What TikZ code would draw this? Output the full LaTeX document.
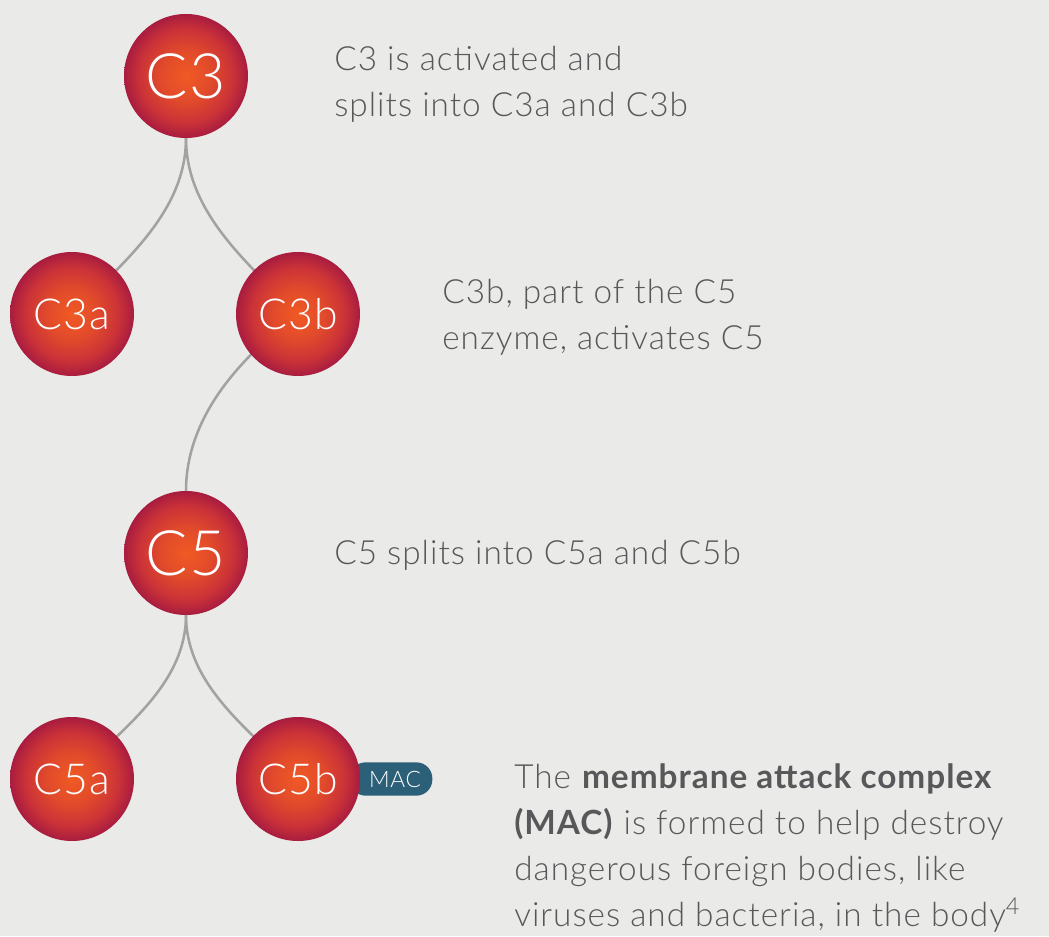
\documentclass[tikz,border=0pt]{standalone}
\usepackage{fontspec}
\setmainfont{Lato}[UprightFont=* Light, BoldFont=* Bold, LetterSpace=3]
\definecolor{pagegray}{HTML}{EAEAE8}
\definecolor{linegray}{HTML}{A2A2A0}
\definecolor{textgray}{HTML}{58585A}
\definecolor{ballcore}{HTML}{F05A24}
\definecolor{ballmid}{HTML}{E24B2A}
\definecolor{ballouter}{HTML}{CA3238}
\definecolor{ballrim}{HTML}{A81C3F}
\definecolor{macteal}{HTML}{2C5F78}
\pgfdeclareradialshading{ballglow}{\pgfpoint{0bp}{0bp}}{color(0bp)=(ballcore); color(10bp)=(ballmid); color(19bp)=(ballouter); color(25bp)=(ballrim); color(50bp)=(ballrim)}
\tikzset{
  ball/.style={circle, minimum size=93pt, inner sep=0pt, shading=ballglow, text=white},
  bigball/.style={ball, font=\fontsize{47}{47}\selectfont},
  smallball/.style={ball, font=\fontsize{32}{32}\selectfont},
  link/.style={linegray, line width=1.9pt},
  note/.style={anchor=west, align=left, text=textgray, inner sep=0pt, font=\fontsize{25}{34.3}\selectfont},
}
\begin{document}
\begin{tikzpicture}[x=0.75pt, y=0.75pt]
    % Background
    \fill[pagegray] (0,0) rectangle (1049,936);
    \useasboundingbox (0,0) rectangle (1049,936);

    % Connectors first, circles sit on top
    \coordinate (c3bot) at (186,798);
    \coordinate (c5top) at (186,445);
    \coordinate (c5bot) at (186,321);
    \draw[link] (c3bot) to[out=-90, in=45, looseness=0.9] (72,622);
    \draw[link] (c3bot) to[out=-90, in=135, looseness=0.9] (298,622);
    \draw[link] (298,622) to[out=217, in=90, looseness=0.9] (c5top);
    \draw[link] (c5bot) to[out=-90, in=45, looseness=0.9] (72,157);
    \draw[link] (c5bot) to[out=-90, in=135, looseness=0.9] (298,157);

    % MAC badge, tucked behind C5b
    \node[fill=macteal, rounded corners=12pt, minimum width=62pt, minimum height=25pt,
          text=white, font=\fontsize{17}{17}\selectfont] (mac) at (391,157) {\hspace{6pt}MAC};

    % Complement components
    \node[bigball] (c3) at (186,860) {C3};
    \node[smallball] (c3a) at (72,622) {C3a};
    \node[smallball] (c3b) at (298,622) {C3b};
    \node[bigball] (c5) at (186,383) {C5};
    \node[smallball] (c5a) at (72,157) {C5a};
    \node[smallball] (c5b) at (298,157) {C5b};

    % Notes
    \node[note] (note3) at (334,852) {C3 is activated and\\splits into C3a and C3b};
    \node[note] (note3b) at (442,619) {C3b, part of the C5\\enzyme, activates C5};
    \node[note] (note5) at (334,381) {C5 splits into C5a and C5b};
    \node[note] (notemac) at (514,88) {The \textbf{membrane attack complex}\\\textbf{(MAC)} is formed to help destroy\\dangerous foreign bodies, like\\viruses and bacteria, in the body\textsuperscript{4}};
\end{tikzpicture}
\end{document}
